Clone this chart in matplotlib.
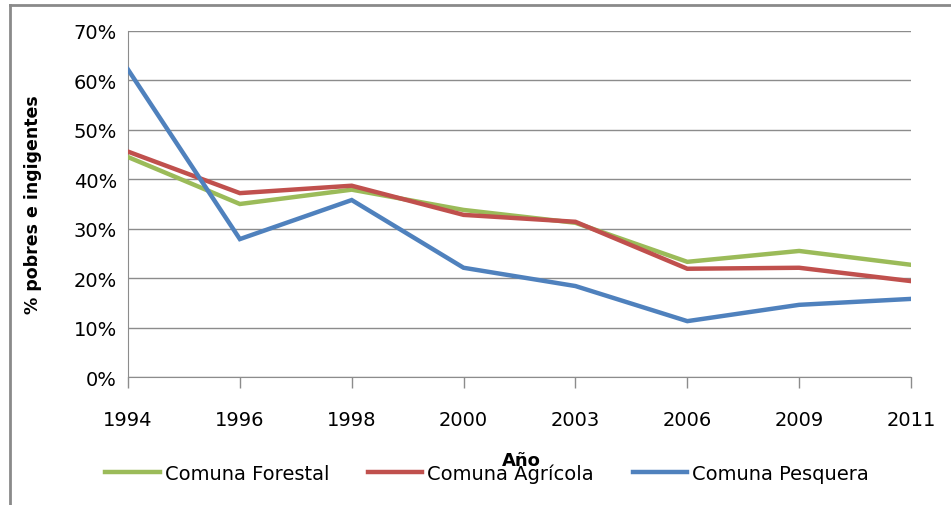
import matplotlib
matplotlib.use("Agg")
import matplotlib.pyplot as plt
from matplotlib.lines import Line2D
from matplotlib.ticker import FuncFormatter

years = ["1994", "1996", "1998", "2000", "2003", "2006", "2009", "2011"]
forestal = [44.5, 35.0, 37.9, 33.8, 31.2, 23.3, 25.5, 22.7]
agricola = [45.6, 37.2, 38.7, 32.8, 31.4, 21.9, 22.1, 19.4]
pesquera = [62.2, 27.9, 35.8, 22.1, 18.4, 11.3, 14.6, 15.8]
series_names = ["Comuna Forestal", "Comuna Agrícola", "Comuna Pesquera"]
yticks = [0, 10, 20, 30, 40, 50, 60, 70]

colors = ["#9BBB59", "#C0504D", "#4F81BD"]
plt.rcParams['font.family'] = ["DejaVu Sans"]

fig = plt.figure(figsize=(9.51, 5.06), dpi=100)
ax = fig.add_axes([128/951, 1-378/506, (911-128)/951, (378-32)/506])

x = list(range(len(years)))
for vals, c in zip([forestal, agricola, pesquera], colors):
    ax.plot(x, vals, color=c, lw=3.2, solid_joinstyle='miter', zorder=3)

ax.set_xlim(0, len(years)-1)
ax.set_ylim(0, 70)
ax.set_yticks(yticks)
ax.yaxis.set_major_formatter(FuncFormatter(lambda v, p: f"{int(v)}%"))
ax.grid(axis='y', color='#8c8c8c', lw=1.0)
ax.set_axisbelow(True)
ax.set_xticks(x)
ax.set_xticklabels(years, fontsize=14)
for lab in ax.get_yticklabels():
    lab.set_fontsize(14)
ax.tick_params(axis='x', direction='out', length=8, width=1, color='#8c8c8c', pad=16)
ax.tick_params(axis='y', length=0, pad=8)
for s in ['top', 'right']:
    ax.spines[s].set_visible(False)
ax.spines['left'].set_color('#8c8c8c')
ax.spines['bottom'].set_color('#8c8c8c')

fig.text(33/951, 1-205/506, "% pobres e ingigentes", rotation=90, ha='center', va='center',
         fontsize=12.5, fontweight='bold')
fig.text(521/951, 1-461/506, "Año", ha='center', va='center', fontsize=13, fontweight='bold')

handles = [Line2D([0], [0], color=c, lw=3.2) for c in colors]
fig.legend(handles, series_names, loc='center', bbox_to_anchor=(487/951, 1-474/506),
           ncol=3, frameon=False, prop={'size': 14},
           handlelength=2.8, handletextpad=0.25, columnspacing=2.0)

# outer frame (top and left edges visible)
fig.add_artist(Line2D([10/951, 1], [1-6/506, 1-6/506], color='#8a8a8a', lw=2, transform=fig.transFigure))
fig.add_artist(Line2D([10/951, 10/951], [0, 1-6/506], color='#8a8a8a', lw=2, transform=fig.transFigure))

fig.savefig("out.png", dpi=100)
